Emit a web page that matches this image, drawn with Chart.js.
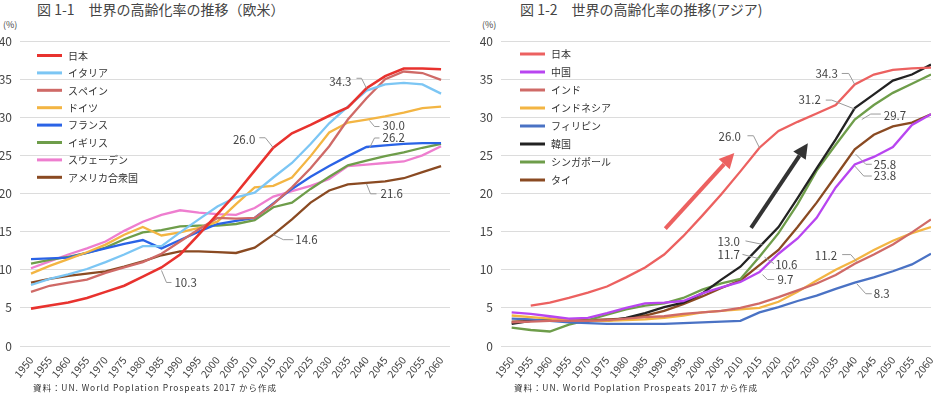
<!DOCTYPE html>
<html>
<head>
<meta charset="utf-8">
<script src="https://cdn.jsdelivr.net/npm/chart.js@4.4.1/dist/chart.umd.min.js"></script>
<style>
  body { margin:0; background:#fff; width:947px; height:398px; position:relative; overflow:hidden;
         font-family:'Noto Sans CJK JP','Noto Sans',sans-serif; color:#444; }
  canvas { position:absolute; top:0; }
  .title { position:absolute; top:0; font-size:14px; line-height:18px; color:#444; white-space:nowrap; }
  .unit { position:absolute; top:19px; font-size:9px; line-height:12px; color:#444; }
  .src { position:absolute; top:381px; font-size:8.5px; line-height:12px; letter-spacing:0.95px; color:#333; white-space:nowrap; }
</style>
</head>
<body>
<div class="title" style="left:37px">図 1-1　世界の高齢化率の推移（欧米）</div>
<div class="unit" style="left:3px">(%)</div>
<div class="title" style="left:520px">図 1-2　世界の高齢化率の推移(アジア)</div>
<div class="unit" style="left:482px">(%)</div>
<canvas id="euro" width="473" height="398" style="left:0"></canvas>
<canvas id="asia" width="473" height="398" style="left:474px"></canvas>
<div class="src" style="left:33px">資料：UN. World Poplation Prospeats 2017 から作成</div>
<div class="src" style="left:514px">資料：UN. World Poplation Prospeats 2017 から作成</div>
<script>
// 年（横軸）と目盛ラベル（原図のまま）
const years = [1950,1955,1960,1965,1970,1975,1980,1985,1990,1995,2000,2005,2010,2015,2020,2025,2030,2035,2040,2045,2050,2055,2060];
const tickLabels = ['1950','1955','1960','1955','1970','1975','1980','1985','1990','1995','2000','2005','2010','2015','2020','2025','2030','2035','2040','2045','2050','2055','2060'];

// 図 1-1 欧米
const euroNames = ['日本','イタリア','スペイン','ドイツ','フランス','イギリス','スウェーデン','アメリカ合衆国'];
const japanEu = [4.9,5.3,5.7,6.3,7.1,7.9,9.1,10.3,12.0,14.6,17.3,20.0,23.0,26.0,27.9,29.0,30.2,31.3,33.8,35.4,36.4,36.4,36.3];
const italy   = [8.0,8.8,9.4,10.1,11.0,12.0,13.1,13.1,14.9,16.6,18.3,19.5,20.1,22.1,24.0,26.5,29.2,31.4,33.5,34.3,34.5,34.3,33.1];
const spain   = [7.1,7.9,8.3,8.7,9.6,10.3,11.0,12.1,13.7,15.3,16.8,16.7,16.8,18.6,20.8,23.3,26.2,29.7,32.5,35.0,36.0,35.8,34.9];
const germany = [9.5,10.5,11.4,12.3,13.3,14.6,15.6,14.5,14.9,15.5,16.3,18.6,20.8,21.0,22.1,24.9,28.0,29.3,29.7,30.1,30.6,31.2,31.4];
const france  = [11.4,11.5,11.6,12.2,12.8,13.4,13.9,12.8,13.9,15.0,16.0,16.4,16.8,18.7,20.6,22.2,23.6,24.9,26.1,26.3,26.5,26.6,26.6];
const uk      = [10.8,11.3,11.7,12.2,12.9,14.0,14.9,15.2,15.7,15.8,15.8,16.0,16.5,18.2,18.8,20.6,22.2,23.7,24.3,24.9,25.4,26.0,26.5];
const sweden  = [10.2,11.1,12.0,12.8,13.7,15.1,16.3,17.2,17.8,17.5,17.3,17.2,18.1,19.6,20.3,21.0,21.9,23.6,23.8,24.0,24.2,25.0,26.2];
const usa     = [8.3,8.8,9.2,9.5,9.8,10.4,11.1,11.9,12.4,12.4,12.3,12.2,12.9,14.6,16.6,18.8,20.4,21.2,21.4,21.6,22.0,22.8,23.6];

// 図 1-2 アジア
const asiaNames = ['日本','中国','インド','インドネシア','フィリピン','韓国','シンガポール','タイ'];
const japanAs   = [null,5.3,5.7,6.3,7.0,7.8,9.0,10.3,12.0,14.4,17.1,19.9,22.9,26.0,28.2,29.4,30.5,31.6,34.3,35.6,36.2,36.4,36.5];
const china     = [4.4,4.2,3.9,3.6,3.7,4.3,5.0,5.6,5.7,5.9,6.9,7.7,8.4,9.7,12.1,14.1,16.8,20.8,23.8,24.8,26.1,29.0,30.4];
const india     = [3.1,3.2,3.3,3.3,3.3,3.4,3.6,3.8,3.9,4.2,4.4,4.6,5.0,5.6,6.4,7.3,8.2,9.3,10.8,12.0,13.3,14.9,16.6];
const indonesia = [4.0,3.8,3.6,3.4,3.3,3.3,3.4,3.5,3.7,4.0,4.4,4.6,4.8,5.0,5.8,7.1,8.6,10.0,11.2,12.6,13.8,14.8,15.6];
const philippines = [3.6,3.5,3.3,3.1,3.0,2.9,2.9,2.9,2.9,3.0,3.1,3.2,3.3,4.4,5.1,5.9,6.6,7.5,8.3,9.0,9.8,10.7,12.1];
const korea     = [2.9,3.3,3.6,3.4,3.3,3.3,3.7,4.3,5.1,5.7,6.9,8.7,10.4,13.0,15.6,19.4,23.3,27.1,31.2,33.0,34.8,35.6,36.9];
const singapore = [2.4,2.1,1.9,2.8,3.4,4.1,4.8,5.3,5.6,6.3,7.4,8.2,8.8,11.7,14.8,18.6,23.0,26.4,29.7,31.6,33.2,34.4,35.6];
const thailand  = [3.2,3.3,3.4,3.4,3.4,3.5,3.6,4.0,4.6,5.5,6.5,7.6,8.6,10.6,12.6,15.6,18.8,22.3,25.8,27.7,28.8,29.3,30.4];

const FONT = "'Noto Sans CJK JP','Noto Sans',sans-serif";
Chart.defaults.font.family = FONT;

// 凡例・注記・矢印
const decor = {
  id: 'decor',
  afterDatasetsDraw(chart, args, o) {
    const ctx = chart.ctx, xs = chart.scales.x, ys = chart.scales.y;
    ctx.save();
    (o.arrows || []).forEach(a => {
      const x1 = xs.getPixelForValue(a.from[0]), y1 = ys.getPixelForValue(a.from[1]);
      const x2 = xs.getPixelForValue(a.to[0]), y2 = ys.getPixelForValue(a.to[1]);
      const ang = Math.atan2(y2 - y1, x2 - x1), hl = 15, hw = 7.5;
      const bx = x2 - hl * Math.cos(ang), by = y2 - hl * Math.sin(ang);
      ctx.strokeStyle = a.color; ctx.fillStyle = a.color; ctx.lineWidth = 4;
      ctx.beginPath(); ctx.moveTo(x1, y1); ctx.lineTo(bx, by); ctx.stroke();
      ctx.beginPath(); ctx.moveTo(x2, y2);
      ctx.lineTo(bx + hw * Math.sin(ang), by - hw * Math.cos(ang));
      ctx.lineTo(bx - hw * Math.sin(ang), by + hw * Math.cos(ang));
      ctx.closePath(); ctx.fill();
    });
    ctx.font = '11.5px ' + FONT;
    ctx.textBaseline = 'middle';
    (o.notes || []).forEach(n => {
      const px = xs.getPixelForValue(years[n.i]);
      const py = ys.getPixelForValue(chart.data.datasets[n.ds].data[n.i].y);
      ctx.strokeStyle = '#9a9a9a'; ctx.lineWidth = 1;
      ctx.beginPath();
      n.path.forEach((p, k) => k ? ctx.lineTo(px + p[0], py + p[1]) : ctx.moveTo(px + p[0], py + p[1]));
      ctx.stroke();
      ctx.fillStyle = '#444';
      ctx.textAlign = n.align;
      ctx.fillText(n.text, px + n.t[0], py + n.t[1]);
    });
    const lg = o.legend;
    ctx.font = lg.size + 'px ' + FONT;
    ctx.textAlign = 'left';
    chart.data.datasets.forEach((d, k) => {
      const y = lg.y + k * lg.gap;
      ctx.strokeStyle = d.borderColor; ctx.lineWidth = 3;
      ctx.beginPath(); ctx.moveTo(lg.x, y); ctx.lineTo(lg.x + 25, y); ctx.stroke();
      ctx.fillStyle = '#333';
      ctx.fillText(d.label, lg.x + 31, y + 0.5);
    });
    ctx.restore();
  }
};

function build(id, names, series, colors, widths, xMin, xMax, axisW, padRight, extra) {
  return new Chart(document.getElementById(id), {
    type: 'line',
    data: {
      datasets: series.map((s, k) => ({
        label: names[k],
        data: s.map((v, i) => ({ x: years[i], y: v })),
        borderColor: colors[k],
        borderWidth: widths[k],
        pointRadius: 0,
        tension: 0
      }))
    },
    options: {
      responsive: false,
      animation: false,
      events: [],
      layout: { padding: { top: 41, right: padRight, left: 0, bottom: 0 } },
      plugins: { legend: { display: false }, tooltip: { enabled: false }, decor: extra },
      scales: {
        x: {
          type: 'linear', min: xMin, max: xMax,
          afterBuildTicks: ax => { ax.ticks = years.map(v => ({ value: v })); },
          afterFit: ax => { ax.height = 52; },
          grid: { display: false }, border: { display: false },
          ticks: {
            autoSkip: false, minRotation: 52, maxRotation: 52, padding: 0,
            color: '#444', font: { size: 10.5 },
            callback: (v, i) => tickLabels[i]
          }
        },
        y: {
          min: 0, max: 40,
          afterFit: ax => { ax.width = axisW; },
          grid: { color: '#dcdcdc', drawTicks: false }, border: { display: false },
          ticks: { stepSize: 5, padding: 8, color: '#444', font: { size: 12 } }
        }
      }
    },
    plugins: [decor]
  });
}

build('euro', euroNames,
  [japanEu, italy, spain, germany, france, uk, sweden, usa],
  ['#e8322e', '#7cc6f4', '#cf6a67', '#f3b543', '#2a63e6', '#6e9d4a', '#ee7ecf', '#8a4a22'],
  [2.6, 2.3, 2.3, 2.3, 2.3, 2.3, 2.3, 2.3],
  1947.05, 2062.4, 20, 23,
  {
    legend: { x: 37, y: 55.5, gap: 17.4, size: 10 },
    notes: [
      { ds: 0, i: 18, text: '34.3', path: [[0, 0], [-5, -10], [-10, -10]], t: [-15, -7], align: 'right' },
      { ds: 0, i: 13, text: '26.0', path: [[0, 0], [-8, -10], [-14, -10]], t: [-18, -8], align: 'right' },
      { ds: 3, i: 18, text: '30.0', path: [[3, 1], [8, 7], [13, 7]], t: [16, 6], align: 'left' },
      { ds: 4, i: 18, text: '26.2', path: [[3, 1], [8, -9], [13, -9]], t: [16, -9], align: 'left' },
      { ds: 7, i: 18, text: '21.6', path: [[0, 1], [4, 11], [10, 11]], t: [14, 11], align: 'left' },
      { ds: 7, i: 13, text: '14.6', path: [[0, 0], [10, 5], [20, 5]], t: [22, 5], align: 'left' },
      { ds: 0, i: 7, text: '10.3', path: [[0, 3], [5, 15], [10, 15]], t: [13, 15], align: 'left' }
    ]
  });

build('asia', asiaNames,
  [japanAs, china, india, indonesia, philippines, korea, singapore, thailand],
  ['#ec6160', '#b845f0', '#cf6a67', '#f3b543', '#4a72c4', '#222222', '#6e9d4a', '#8a4a22'],
  [2.3, 2.3, 2.3, 2.3, 2.3, 2.3, 2.3, 2.3],
  1947.2, 2060, 27, 16,
  {
    legend: { x: 46, y: 54, gap: 18, size: 10 },
    arrows: [
      { from: [1990.3, 15.4], to: [2008.4, 25.3], color: '#ec6160' },
      { from: [2012.8, 15.5], to: [2027.7, 26.6], color: '#333333' }
    ],
    notes: [
      { ds: 0, i: 18, text: '34.3', path: [[0, 0], [-6, -11], [-13, -11]], t: [-17, -10.5], align: 'right' },
      { ds: 0, i: 13, text: '26.0', path: [[0, 0], [-6, -12], [-12, -12]], t: [-18.5, -11.5], align: 'right' },
      { ds: 5, i: 18, text: '31.2', path: [[0, 1], [-23, -8], [-29, -8]], t: [-34, -8], align: 'right' },
      { ds: 6, i: 18, text: '29.7', path: [[7, 0], [16, -5.5], [26, -5.5]], t: [29, -4], align: 'left' },
      { ds: 7, i: 18, text: '25.8', path: [[1, 5], [11, 15], [17, 15]], t: [19, 15], align: 'left' },
      { ds: 1, i: 18, text: '23.8', path: [[0, 1.5], [9, 11.5], [17, 11.5]], t: [19, 11.5], align: 'left' },
      { ds: 5, i: 13, text: '13.0', path: [[3, -2.5], [-14, -6]], t: [-19.6, -5.5], align: 'right' },
      { ds: 6, i: 13, text: '11.7', path: [[0, 2], [-17, -2.4]], t: [-19.6, -2.4], align: 'right' },
      { ds: 7, i: 13, text: '10.6', path: [[5, -8], [14.5, -1.5]], t: [15.7, -1], align: 'left' },
      { ds: 1, i: 13, text: '9.7', path: [[3, 2.5], [8, 7.5], [14.7, 7.5]], t: [18, 8], align: 'left' },
      { ds: 3, i: 18, text: '11.2', path: [[2, 1], [-4, -6], [-12.6, -6]], t: [-17.6, -5], align: 'right' },
      { ds: 4, i: 18, text: '8.3', path: [[2, 1], [11, 11], [17, 11]], t: [19, 11], align: 'left' }
    ]
  });
</script>
</body>
</html>
